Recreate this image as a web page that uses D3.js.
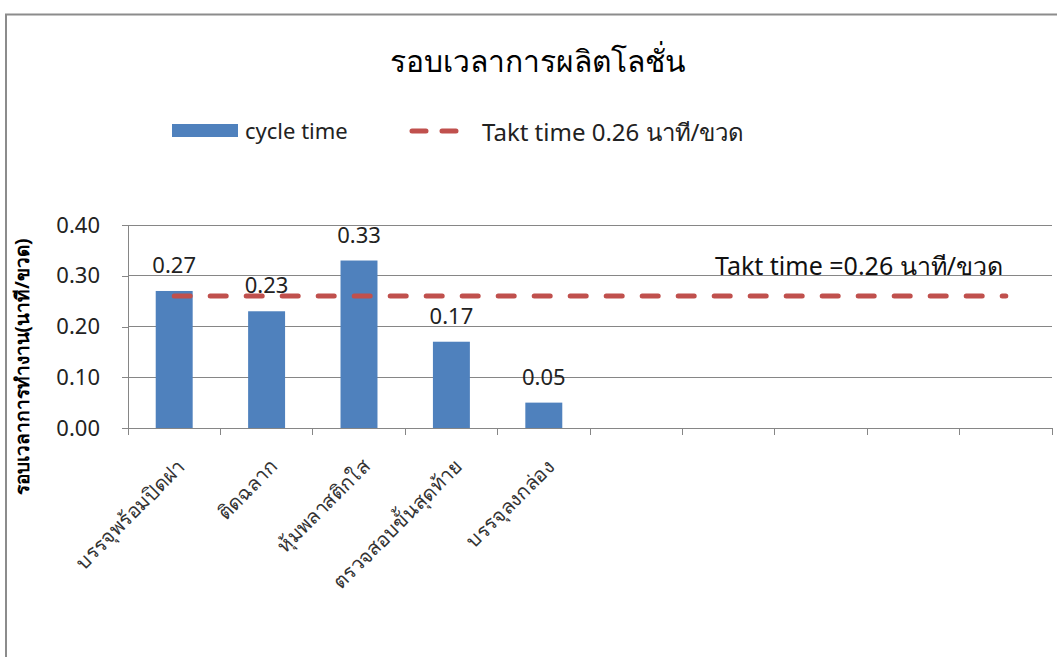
<!DOCTYPE html>
<html>
<head>
<meta charset="utf-8">
<script src="https://cdn.jsdelivr.net/npm/d3@7"></script>
<style>
  html, body { margin: 0; padding: 0; background: #fff; }
  svg { display: block; }
  text { font-family: Tahoma, "Noto Sans", "DejaVu Sans", sans-serif; }
</style>
</head>
<body>
<svg id="chart" width="1057" height="657"></svg>
<script>
// Process steps and their cycle times (minutes per bottle)
const categories = ["บรรจุพร้อมปิดฝา", "ติดฉลาก", "หุ้มพลาสติกใส", "ตรวจสอบขั้นสุดท้าย", "บรรจุลงกล่อง", "", "", "", "", ""];
const cycleTime = [0.27, 0.23, 0.33, 0.17, 0.05, null, null, null, null, null];
const taktTime = [0.26, 0.26, 0.26, 0.26, 0.26, 0.26, 0.26, 0.26, 0.26, 0.26];
const yTicks = [0, 0.1, 0.2, 0.3, 0.4];

const titleText = "รอบเวลาการผลิตโลชั่น";
const yLabel = "รอบเวลาการทำงาน(นาที/ขวด)";
const barLegend = "cycle time";
const lineLegend = "Takt time 0.26 นาที/ขวด";
const taktNote = "Takt time =0.26 นาที/ขวด";

const svg = d3.select("#chart");
const blue = "#4F81BD", red = "#C0504D", axisGray = "#868686";

// chart frame
svg.append("path")
  .attr("d", "M6,665 L6,14.5 L1070,14.5")
  .attr("fill", "none").attr("stroke", "#8c8c8c").attr("stroke-width", 2);

const plot = { left: 128, right: 1052, top: 225, bottom: 428 };

const x = d3.scaleBand()
  .domain(d3.range(categories.length))
  .range([plot.left, plot.right])
  .paddingInner(0).paddingOuter(0);

const y = d3.scaleLinear().domain([0, 0.4]).range([plot.bottom, plot.top]);

// horizontal gridlines
svg.append("g").selectAll("line").data(yTicks.slice(1)).join("line")
  .attr("x1", plot.left).attr("x2", plot.right)
  .attr("y1", d => y(d)).attr("y2", d => y(d))
  .attr("stroke", axisGray).attr("stroke-width", 1).attr("shape-rendering", "crispEdges");

// y axis
const yAxis = svg.append("g")
  .attr("transform", `translate(${plot.left},0)`)
  .call(d3.axisLeft(y).tickValues(yTicks).tickFormat(d3.format(".2f")).tickSize(6).tickPadding(22));
yAxis.select(".domain").attr("stroke", axisGray).attr("shape-rendering", "crispEdges");
yAxis.selectAll(".tick line").attr("stroke", axisGray).attr("shape-rendering", "crispEdges");
yAxis.selectAll(".tick text").attr("font-size", 22).attr("fill", "#222")
  .attr("font-family", "Tahoma, 'Noto Sans', 'DejaVu Sans', sans-serif");

// x axis
const xAxis = svg.append("g")
  .attr("transform", `translate(0,${plot.bottom})`)
  .call(d3.axisBottom(x).tickSizeOuter(0).tickSize(0).tickFormat(""));
xAxis.select(".domain").attr("stroke", axisGray).attr("shape-rendering", "crispEdges");
xAxis.selectAll(".tick").remove();
// tick marks between categories
svg.append("g").selectAll("line").data(d3.range(categories.length + 1)).join("line")
  .attr("x1", i => plot.left + i * x.step()).attr("x2", i => plot.left + i * x.step())
  .attr("y1", plot.bottom).attr("y2", plot.bottom + 7)
  .attr("stroke", axisGray).attr("shape-rendering", "crispEdges");

// category labels, rotated
svg.append("g").selectAll("text").data(categories).join("text")
  .attr("transform", (d, i) => `translate(${x(i) + x.bandwidth() / 2 + 12},${plot.bottom + 40}) rotate(-45)`)
  .attr("text-anchor", "end")
  .attr("font-size", 20).attr("fill", "#333")
  .text(d => d);

// bars
const barW = x.bandwidth() * 0.4;
svg.append("g").selectAll("rect").data(cycleTime.map((v, i) => ({ v, i })).filter(d => d.v != null)).join("rect")
  .attr("x", d => x(d.i) + (x.bandwidth() - barW) / 2)
  .attr("width", barW)
  .attr("y", d => y(d.v))
  .attr("height", d => y(0) - y(d.v))
  .attr("fill", blue);

// bar value labels
svg.append("g").selectAll("text").data(cycleTime.map((v, i) => ({ v, i })).filter(d => d.v != null)).join("text")
  .attr("x", d => x(d.i) + x.bandwidth() / 2)
  .attr("y", d => y(d.v) - 18)
  .attr("text-anchor", "middle")
  .attr("font-size", 22).attr("fill", "#222")
  .text(d => d3.format(".2f")(d.v));

// takt time line
const line = d3.line().x((d, i) => x(i) + x.bandwidth() / 2).y(d => y(d));
svg.append("path").datum(taktTime)
  .attr("d", line)
  .attr("fill", "none").attr("stroke", red).attr("stroke-width", 5)
  .attr("stroke-linecap", "round").attr("stroke-dasharray", "16 20");

// takt annotation
svg.append("text")
  .attr("x", 1003).attr("y", 275)
  .attr("text-anchor", "end")
  .attr("font-size", 25).attr("fill", "#111")
  .text(taktNote);

// title
svg.append("text")
  .attr("x", 538).attr("y", 72)
  .attr("text-anchor", "middle")
  .attr("font-size", 30).attr("fill", "#000")
  .text(titleText);

// y axis title
svg.append("text")
  .attr("transform", `translate(29,367) rotate(-90)`)
  .attr("text-anchor", "middle")
  .attr("font-size", 19).attr("font-weight", "bold").attr("fill", "#000")
  .text(yLabel);

// legend
const lg = svg.append("g");
lg.append("rect").attr("x", 172).attr("y", 124).attr("width", 66).attr("height", 13).attr("fill", blue);
lg.append("text").attr("x", 245).attr("y", 139).attr("font-size", 22).attr("fill", "#222").text(barLegend);
lg.append("line").attr("x1", 412).attr("x2", 460).attr("y1", 131).attr("y2", 131)
  .attr("stroke", red).attr("stroke-width", 5).attr("stroke-linecap", "round").attr("stroke-dasharray", "14 16");
lg.append("text").attr("x", 482).attr("y", 141).attr("font-size", 24).attr("fill", "#222").text(lineLegend);
</script>
</body>
</html>
